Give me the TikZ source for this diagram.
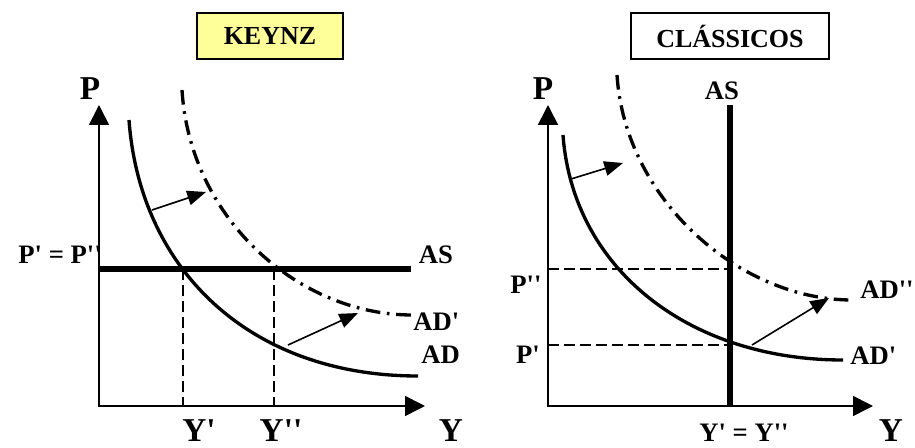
\documentclass[tikz,border=0pt]{standalone}
\usepackage{fontspec}
\setmainfont{Liberation Serif}
\usetikzlibrary{arrows.meta}
\definecolor{keynzfill}{RGB}{255,255,153}
\newcommand{\pq}{\textquotesingle}
\tikzset{
  titlebox/.style={draw=black, line width=1.1pt, minimum height=34.5pt, inner sep=0pt, font=\bfseries\fontsize{19.5}{20}\selectfont},
  lbl/.style={inner sep=0pt, font=\bfseries\fontsize{20}{20}\selectfont},
  biglbl/.style={inner sep=0pt, font=\bfseries\fontsize{25}{25}\selectfont},
  axis/.style={line width=1.2pt, {Triangle[length=15pt,width=15pt]}-{Triangle[length=15pt,width=15pt]}},
  adline/.style={line width=2.5pt},
  adshift/.style={line width=2.5pt, dash pattern=on 11pt off 5pt on 2pt off 5pt},
  asline/.style={line width=4pt},
  guide/.style={line width=1.1pt, dash pattern=on 8pt off 4pt},
  shiftarrow/.style={line width=1.2pt, -{Triangle[length=14pt,width=11pt]}}
}

\begin{document}
\begin{tikzpicture}[x=0.75pt, y=-0.75pt]
\useasboundingbox (0,0) rectangle (915,448);

% KEYNZ
\node[titlebox, fill=keynzfill, minimum width=109.5pt] (keynz) at (270,36) {KEYNZ};
\coordinate (ktop) at (99,105);
\coordinate (korig) at (99,406);
\coordinate (kright) at (425,406);
\draw[axis] (ktop) -- (korig) -- (kright);
\node[biglbl] (kp) at (90,89) {P};
\node[biglbl, anchor=base] (ky1) at (199,442) {Y\pq};
\node[biglbl, anchor=base] (ky2) at (281,442) {Y\pq\pq};
\node[biglbl, anchor=base] (ky) at (451,442) {Y};

\coordinate (kasl) at (99,269);
\coordinate (kasr) at (411,269);
\draw[asline] (kasl) -- (kasr);
\node[lbl] (kas) at (436,255) {AS};
\node[lbl, anchor=east] (kpp) at (102,255) {P\pq{} = P\pq\pq};

\coordinate (ke1) at (183,269);
\coordinate (ke2) at (274,269);
\draw[guide] (ke1) -- (ke1 |- korig);
\draw[guide] (ke2) -- (ke2 |- korig);

\draw[adline] (129,120) .. controls (140,270) and (250,376) .. (418,376);
\draw[adshift] (182,90) .. controls (190,220) and (300,315) .. (412,315);
\node[lbl, anchor=west] (kad1) at (413,322) {AD\pq};
\node[lbl, anchor=west] (kad) at (421,355) {AD};

\coordinate (ka1) at (152,210);
\coordinate (ka2) at (206,192);
\coordinate (kb1) at (288,345);
\coordinate (kb2) at (358,313);
\draw[shiftarrow] (ka1) -- (ka2);
\draw[shiftarrow] (kb1) -- (kb2);

% CLASSICOS
\node[titlebox, minimum width=148.5pt] (class) at (730,36) {CLÁSSICOS};
\coordinate (ctop) at (548,105);
\coordinate (corig) at (548,406);
\coordinate (cright) at (873,406);
\draw[axis] (ctop) -- (corig) -- (cright);
\node[biglbl] (cp) at (543,89) {P};
\node[lbl, anchor=base] (cy12) at (744,442) {Y\pq{} = Y\pq\pq};
\node[biglbl, anchor=base] (cy) at (891,442) {Y};

\coordinate (castop) at (730,105);
\coordinate (casbot) at (730,406);
\draw[asline] (castop) -- (casbot);
\node[lbl] (cas) at (722,91) {AS};

\coordinate (ce2) at (730,269);
\coordinate (ce1) at (730,345);
\draw[guide] (ce2 -| corig) -- (ce2);
\draw[guide] (ce1 -| corig) -- (ce1);
\node[lbl] (cp2) at (526,285) {P\pq\pq};
\node[lbl] (cp1) at (528,355) {P\pq};

\draw[adline] (563,135) .. controls (573,270) and (690,360) .. (843,360);
\draw[adshift] (617,75) .. controls (625,200) and (740,300) .. (852,300);
\node[lbl, anchor=west] (cad2) at (860,290) {AD\pq\pq};
\node[lbl, anchor=west] (cad1) at (850,356) {AD\pq};

\coordinate (ca1) at (571,179);
\coordinate (ca2) at (623,163);
\coordinate (cb1) at (752,345);
\coordinate (cb2) at (829,298);
\draw[shiftarrow] (ca1) -- (ca2);
\draw[shiftarrow] (cb1) -- (cb2);
\end{tikzpicture}
\end{document}
